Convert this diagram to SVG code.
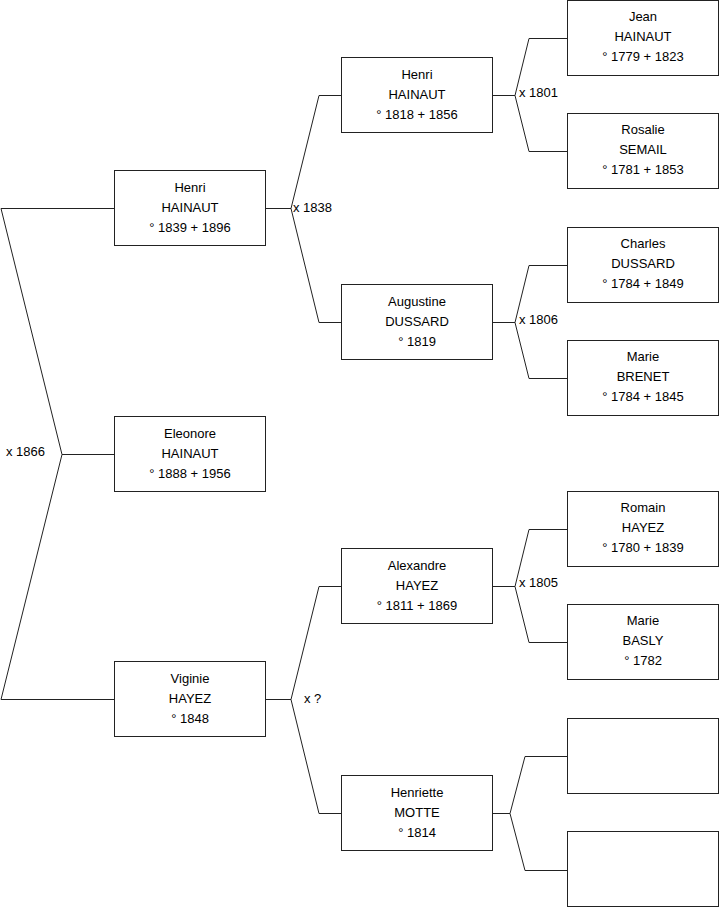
<svg xmlns="http://www.w3.org/2000/svg" width="719" height="908" viewBox="0 0 719 908">
<style>
.box{fill:#fff;stroke:#222;stroke-width:1}
.ln{fill:none;stroke:#222;stroke-width:1}
text{font-family:"Liberation Sans",Arial,sans-serif;font-size:13px;fill:#000}
.c{text-anchor:middle}
</style>
<rect width="719" height="908" fill="#fff"/>
<g id="connectors">
<polyline class="ln" points="114,454.5 62,454.5"/>
<polyline class="ln" points="114,208.5 1,208.5 62,454.5 1,699.5 114,699.5"/>
<polyline class="ln" points="265,208.5 291,208.5"/>
<polyline class="ln" points="341,95.5 319,95.5 291,208.5 319,322.5 341,322.5"/>
<polyline class="ln" points="492,95.5 515,95.5"/>
<polyline class="ln" points="567,38.5 529,38.5 515,95.5 529,151.5 567,151.5"/>
<polyline class="ln" points="492,322.5 515,322.5"/>
<polyline class="ln" points="567,265.5 529,265.5 515,322.5 529,378.5 567,378.5"/>
<polyline class="ln" points="265,699.5 291,699.5"/>
<polyline class="ln" points="341,586.5 319,586.5 291,699.5 319,813.5 341,813.5"/>
<polyline class="ln" points="492,586.5 515,586.5"/>
<polyline class="ln" points="567,529.5 529,529.5 515,586.5 529,642.5 567,642.5"/>
<polyline class="ln" points="492,813.5 510,813.5"/>
<polyline class="ln" points="567,756.5 525,756.5 510,813.5 525,870.5 567,870.5"/>
<text x="6" y="456">x 1866</text>
<text x="293" y="212">x 1838</text>
<text x="519" y="97">x 1801</text>
<text x="519" y="324">x 1806</text>
<text x="304" y="703">x ?</text>
<text x="519" y="587">x 1805</text>
</g>
<g id="n-henri-1839">
<rect class="box" x="114.5" y="170.5" width="151" height="75"/>
<text class="c" x="190" y="192">Henri</text><text class="c" x="190" y="212">HAINAUT</text><text class="c" x="190" y="232">° 1839 + 1896</text>
</g>
<g id="n-eleonore">
<rect class="box" x="114.5" y="416.5" width="151" height="75"/>
<text class="c" x="190" y="438">Eleonore</text><text class="c" x="190" y="458">HAINAUT</text><text class="c" x="190" y="478">° 1888 + 1956</text>
</g>
<g id="n-viginie">
<rect class="box" x="114.5" y="661.5" width="151" height="75"/>
<text class="c" x="190" y="683">Viginie</text><text class="c" x="190" y="703">HAYEZ</text><text class="c" x="190" y="723">° 1848</text>
</g>
<g id="n-henri-1818">
<rect class="box" x="341.5" y="57.5" width="151" height="75"/>
<text class="c" x="417" y="79">Henri</text><text class="c" x="417" y="99">HAINAUT</text><text class="c" x="417" y="119">° 1818 + 1856</text>
</g>
<g id="n-augustine">
<rect class="box" x="341.5" y="284.5" width="151" height="75"/>
<text class="c" x="417" y="306">Augustine</text><text class="c" x="417" y="326">DUSSARD</text><text class="c" x="417" y="346">° 1819</text>
</g>
<g id="n-alexandre">
<rect class="box" x="341.5" y="548.5" width="151" height="75"/>
<text class="c" x="417" y="570">Alexandre</text><text class="c" x="417" y="590">HAYEZ</text><text class="c" x="417" y="610">° 1811 + 1869</text>
</g>
<g id="n-henriette">
<rect class="box" x="341.5" y="775.5" width="151" height="75"/>
<text class="c" x="417" y="797">Henriette</text><text class="c" x="417" y="817">MOTTE</text><text class="c" x="417" y="837">° 1814</text>
</g>
<g id="n-jean">
<rect class="box" x="567.5" y="0.5" width="151" height="75"/>
<text class="c" x="643" y="21">Jean</text><text class="c" x="643" y="41">HAINAUT</text><text class="c" x="643" y="61">° 1779 + 1823</text>
</g>
<g id="n-rosalie">
<rect class="box" x="567.5" y="113.5" width="151" height="75"/>
<text class="c" x="643" y="134">Rosalie</text><text class="c" x="643" y="154">SEMAIL</text><text class="c" x="643" y="174">° 1781 + 1853</text>
</g>
<g id="n-charles">
<rect class="box" x="567.5" y="227.5" width="151" height="75"/>
<text class="c" x="643" y="248">Charles</text><text class="c" x="643" y="268">DUSSARD</text><text class="c" x="643" y="288">° 1784 + 1849</text>
</g>
<g id="n-marie-brenet">
<rect class="box" x="567.5" y="340.5" width="151" height="75"/>
<text class="c" x="643" y="361">Marie</text><text class="c" x="643" y="381">BRENET</text><text class="c" x="643" y="401">° 1784 + 1845</text>
</g>
<g id="n-romain">
<rect class="box" x="567.5" y="491.5" width="151" height="75"/>
<text class="c" x="643" y="512">Romain</text><text class="c" x="643" y="532">HAYEZ</text><text class="c" x="643" y="552">° 1780 + 1839</text>
</g>
<g id="n-marie-basly">
<rect class="box" x="567.5" y="604.5" width="151" height="75"/>
<text class="c" x="643" y="625">Marie</text><text class="c" x="643" y="645">BASLY</text><text class="c" x="643" y="665">° 1782</text>
</g>
<g id="n-blank-1">
<rect class="box" x="567.5" y="718.5" width="151" height="75"/>
</g>
<g id="n-blank-2">
<rect class="box" x="567.5" y="831.5" width="151" height="75"/>
</g>
</svg>
